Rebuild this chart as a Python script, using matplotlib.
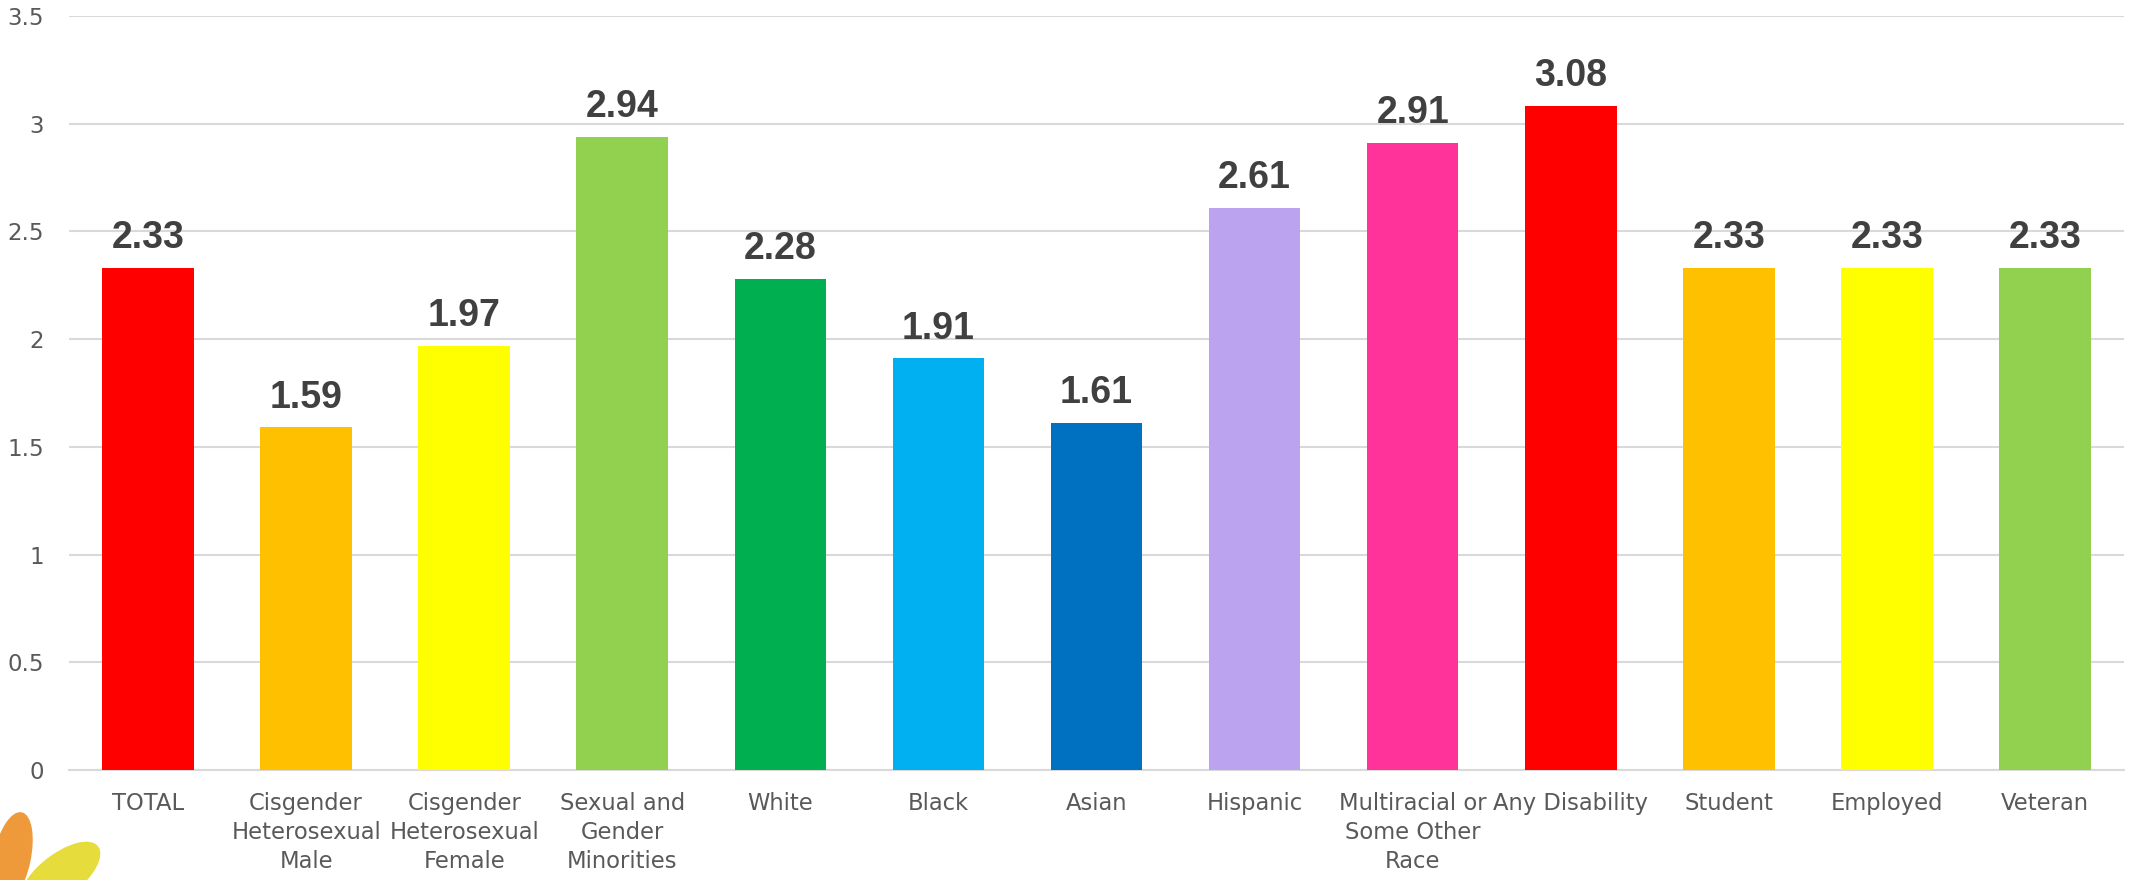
import matplotlib
matplotlib.use("Agg")
from matplotlib import pyplot as plt
from matplotlib.patches import Ellipse
from matplotlib.transforms import IdentityTransform

categories = ["TOTAL", "Cisgender\nHeterosexual\nMale", "Cisgender\nHeterosexual\nFemale",
              "Sexual and\nGender\nMinorities", "White", "Black", "Asian", "Hispanic",
              "Multiracial or\nSome Other\nRace", "Any Disability", "Student", "Employed", "Veteran"]
values = [2.33, 1.59, 1.97, 2.94, 2.28, 1.91, 1.61, 2.61, 2.91, 3.08, 2.33, 2.33, 2.33]
colors = ["#FF0000", "#FFC000", "#FFFF00", "#92D050", "#00B050", "#00B0F0", "#0070C0",
          "#BBA3EF", "#FF3399", "#FF0000", "#FFC000", "#FFFF00", "#92D050"]
yticks = [0, 0.5, 1, 1.5, 2, 2.5, 3, 3.5]
ytick_labels = ["0", "0.5", "1", "1.5", "2", "2.5", "3", "3.5"]

fig = plt.figure(figsize=(21.31, 8.8), dpi=100)
ax = fig.add_axes([0.0324, 0.125, 0.9643, 0.857])

x = range(len(categories))
ax.bar(x, values, width=0.58, color=colors, zorder=3)

for i, v in zip(x, values):
    ax.text(i, v + 0.055, f"{v:.2f}", ha="center", va="bottom", fontsize=27,
            fontweight="bold", color="#404040", family="Liberation Sans", zorder=4)

ax.set_xlim(-0.5, len(categories) - 0.5)
ax.set_ylim(0, 3.5)
ax.set_yticks(yticks)
ax.set_yticklabels(ytick_labels, fontsize=16.5, color="#595959", family="DejaVu Sans")
ax.set_xticks(list(x))
ax.set_xticklabels(categories, fontsize=16.3, color="#595959", family="DejaVu Sans",
                   linespacing=1.32)
ax.tick_params(axis="y", length=0, pad=18)
ax.tick_params(axis="x", length=0, pad=16)

ax.grid(axis="y", color="#d9d9d9", linewidth=1.5, zorder=0)
for s in ["top", "right", "left"]:
    ax.spines[s].set_visible(False)
ax.spines["bottom"].set_color("#d9d9d9")
ax.spines["bottom"].set_linewidth(1.5)

# logo petals, bottom left corner (pixel coords)
fig.patches.append(Ellipse((12, 22), 36, 92, angle=-12, color="#EE9A3A",
                           transform=IdentityTransform(), figure=fig))
fig.patches.append(Ellipse((60, 4), 95, 42, angle=38, color="#E6DC3C",
                           transform=IdentityTransform(), figure=fig))

fig.savefig("out.png", dpi=100, facecolor="white")
